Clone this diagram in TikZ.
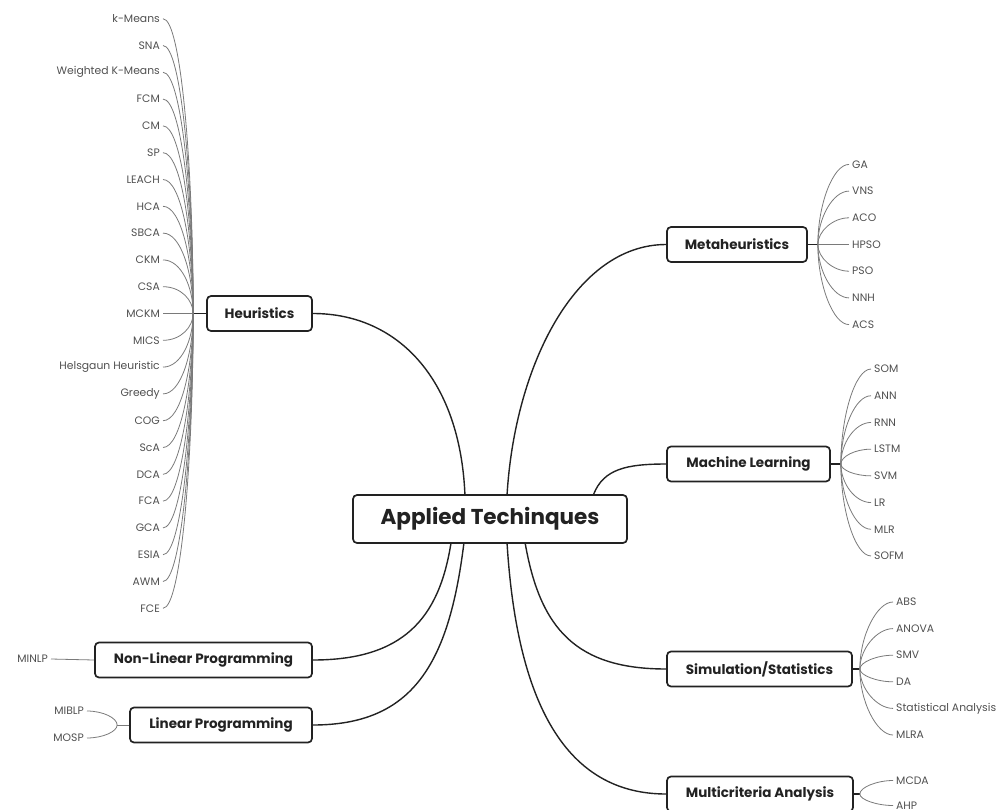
\documentclass[tikz,border=0pt]{standalone}
\usepackage{fontspec}
\setmainfont{Poppins}
\usetikzlibrary{calc}
\definecolor{ink}{HTML}{222222}
\definecolor{leafline}{HTML}{7A7A7A}
\definecolor{leaftext}{HTML}{505050}
\tikzset{
  mainbox/.style={draw=ink, line width=1.7pt, rounded corners=4pt, fill=white,
    minimum height=35pt, inner xsep=0pt, text=ink,
    font=\fontsize{13.5}{15}\selectfont\bfseries},
  centralbox/.style={mainbox, minimum height=48pt, minimum width=274pt,
    font=\fontsize{21.5}{24}\selectfont\bfseries},
  leaf/.style={inner xsep=3pt, inner ysep=1pt, text=leaftext,
    font=\fontsize{10.8}{12}\selectfont},
  leafcon/.style={draw=leafline, line width=0.8pt},
  maincon/.style={draw=ink, line width=1.4pt},
}
\begin{document}
\begin{tikzpicture}[x=1pt,y=-1pt]
\useasboundingbox (0,0) rectangle (996,809);

% main nodes
\node[centralbox] (c) at (490,519) {Applied Techinques};
\node[mainbox, minimum width=105pt] (heur) at (259.5,313.5) {Heuristics};
\node[mainbox, minimum width=140pt] (meta) at (737,244.5) {Metaheuristics};
\node[mainbox, minimum width=163pt] (ml) at (748.5,464) {Machine Learning};
\node[mainbox, minimum width=185pt] (sim) at (759.5,669) {Simulation/Statistics};
\node[mainbox, minimum width=186pt] (multi) at (760,794) {Multicriteria Analysis};
\node[mainbox, minimum width=217pt] (nonlin) at (203.5,660) {Non-Linear Programming};
\node[mainbox, minimum width=182pt] (lin) at (221,725) {Linear Programming};

% attachment points on central box
\coordinate (cH) at ($(c.north west)!0.409!(c.north east)$);
\coordinate (cM) at ($(c.north west)!0.562!(c.north east)$);
\coordinate (cML) at ($(c.north west)!0.876!(c.north east)$);
\coordinate (cN) at ($(c.south west)!0.358!(c.south east)$);
\coordinate (cL) at ($(c.south west)!0.405!(c.south east)$);
\coordinate (cMu) at ($(c.south west)!0.562!(c.south east)$);
\coordinate (cS) at ($(c.south west)!0.628!(c.south east)$);

% main connectors
\draw[maincon] (heur.east) .. controls +(85,0) and +(-5,-115) .. (cH);
\draw[maincon] (cM) .. controls +(8,-130) and +(-90,0) .. (meta.west);
\draw[maincon] (cML) .. controls +(10,-25) and +(-40,0) .. (ml.west);
\draw[maincon] (cN) .. controls +(-12,75) and +(90,0) .. (nonlin.east);
\draw[maincon] (cL) .. controls +(-15,120) and +(100,0) .. (lin.east);
\draw[maincon] (cS) .. controls +(15,85) and +(-90,0) .. (sim.west);
\draw[maincon] (cMu) .. controls +(10,160) and +(-100,0) .. (multi.west);

% junctions
\coordinate (hJ) at ($(heur.west)+(-13,0)$);
\coordinate (mJ) at ($(meta.east)+(10,0)$);
\coordinate (mlJ) at ($(ml.east)+(10,0)$);
\coordinate (sJ) at ($(sim.east)+(7,0)$);
\coordinate (muJ) at ($(multi.east)+(6,0)$);
\coordinate (lJ) at ($(lin.west)+(-12,0)$);
\draw[maincon, line width=1.1pt] (heur.west) -- (hJ);
\draw[maincon, line width=1.1pt] (meta.east) -- (mJ);
\draw[maincon, line width=1.1pt] (ml.east) -- (mlJ);
\draw[maincon, line width=1.1pt] (sim.east) -- (sJ);
\draw[maincon, line width=1.1pt] (multi.east) -- (muJ);
\draw[leafcon] (lin.west) -- (lJ);

% Heuristics leaves
\foreach \n [count=\i] in {k-Means,SNA,Weighted K-Means,FCM,CM,SP,LEACH,HCA,SBCA,CKM,CSA,MCKM,MICS,Helsgaun Heuristic,Greedy,COG,ScA,DCA,FCA,GCA,ESIA,AWM,FCE}{
  \node[leaf, anchor=east] (h\i) at (163,{313.5+(\i-12)*26.8}) {\n};
  \draw[leafcon] (h\i.east) .. controls +(18,0) and ($(hJ)!0.5!(hJ|-h\i.east)$) .. (hJ);
}

% Metaheuristics leaves
\foreach \n [count=\i] in {GA,VNS,ACO,HPSO,PSO,NNH,ACS}{
  \node[leaf, anchor=west] (m\i) at (849,{244.5+(\i-4)*26.7}) {\n};
  \draw[leafcon] (mJ) .. controls ($(mJ)!0.5!(mJ|-m\i.west)$) and +(-16,0) .. (m\i.west);
}

% Machine learning leaves
\foreach \n [count=\i] in {SOM,ANN,RNN,LSTM,SVM,LR,MLR,SOFM}{
  \node[leaf, anchor=west] (l\i) at (871,{462.5+(\i-4.5)*26.7}) {\n};
  \draw[leafcon] (mlJ) .. controls ($(mlJ)!0.5!(mlJ|-l\i.west)$) and +(-16,0) .. (l\i.west);
}

% Simulation/Statistics leaves
\foreach \n [count=\i] in {ABS,ANOVA,SMV,DA,Statistical Analysis,MLRA}{
  \node[leaf, anchor=west] (s\i) at (893,{668.5+(\i-3.5)*26.6}) {\n};
  \draw[leafcon] (sJ) .. controls ($(sJ)!0.5!(sJ|-s\i.west)$) and +(-16,0) .. (s\i.west);
}

% Multicriteria leaves
\foreach \n [count=\i] in {MCDA,AHP}{
  \node[leaf, anchor=west] (u\i) at (893,{793+(\i-1.5)*25}) {\n};
  \draw[leafcon] (muJ) .. controls ($(muJ)!0.5!(muJ|-u\i.west)$) and +(-16,0) .. (u\i.west);
}

% Linear programming leaves
\foreach \n [count=\i] in {MIBLP,MOSP}{
  \node[leaf, anchor=east] (p\i) at (87,{724.5+(\i-1.5)*27}) {\n};
  \draw[leafcon] (p\i.east) .. controls +(16,0) and ($(lJ)!0.5!(lJ|-p\i.east)$) .. (lJ);
}

% Non-linear programming leaf
\node[leaf, anchor=east] (n1) at (51,659) {MINLP};
\draw[leafcon] (n1.east) -- (nonlin.west);
\end{tikzpicture}
\end{document}
